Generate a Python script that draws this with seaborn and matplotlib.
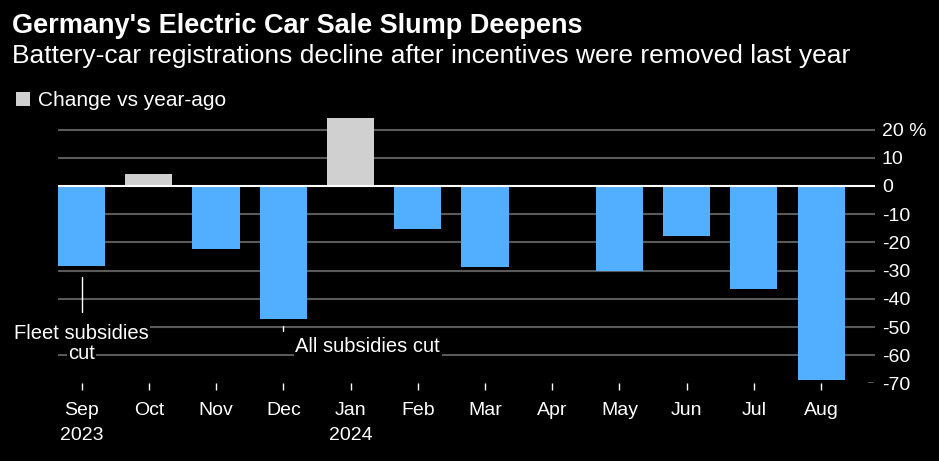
import numpy as np
import pandas as pd
import seaborn as sns
import matplotlib.pyplot as plt
from matplotlib.patches import Rectangle

months = ['Sep', 'Oct', 'Nov', 'Dec', 'Jan', 'Feb', 'Mar', 'Apr', 'May', 'Jun', 'Jul', 'Aug']
years = ['2023', '', '', '', '2024', '', '', '', '', '', '', '']
change = [-28.4, 4.3, -22.2, -47.3, 24.0, -15.2, -28.7, np.nan, -30.1, -17.7, -36.5, -68.8]
yticks = [20, 10, 0, -10, -20, -30, -40, -50, -60, -70]

BLUE = '#52aeff'
GREY = '#d0d0d0'
GRID = '#5a5a5a'

df = pd.DataFrame({'month': months, 'change': change})
df['sign'] = np.where(df['change'] > 0, 'up', 'down')

sns.set_style('dark', {'axes.facecolor': 'black', 'figure.facecolor': 'black'})
plt.rcParams['font.family'] = ['Liberation Sans', 'DejaVu Sans']

fig = plt.figure(figsize=(9.39, 4.61), dpi=100)
fig.patch.set_facecolor('black')
ax = fig.add_axes([58 / 939, 0.1683, 817 / 939, 0.7495 - 0.1683])
ax.set_facecolor('black')

sns.barplot(data=df, x='month', y='change', hue='sign', order=months,
            palette={'up': GREY, 'down': BLUE}, dodge=False, width=0.7,
            saturation=1, errorbar=None, legend=False, ax=ax, zorder=2,
            edgecolor='none', linewidth=0)

ax.set_xlim(-0.35, 11.8)
ax.set_ylim(-70, 25)
ax.grid(False)
for s in ax.spines.values():
    s.set_visible(False)

# gridlines
for v in yticks:
    if v == 0 or v == -70:
        continue
    ax.axhline(v, color=GRID, lw=1.5, zorder=1)
ax.axhline(-70, xmin=0.9927, xmax=0.998, color=GRID, lw=1.5, zorder=1)
ax.axhline(0, color='white', lw=1.5, zorder=3)

# y axis on the right
ax.yaxis.tick_right()
ax.set_yticks(yticks)
ax.set_yticklabels(['20 %' if v == 20 else str(v) for v in yticks])
ax.tick_params(axis='y', length=0, pad=5, labelsize=14, labelcolor='white')

# x axis
ax.set_xticks(range(len(months)))
ax.set_xticklabels([m + ('\n' + y if y else '') for m, y in zip(months, years)],
                   linespacing=1.6, va='top')
ax.tick_params(axis='x', length=4.7, width=1, color='white', pad=9,
               labelsize=14, labelcolor='white', bottom=True)
ax.set_xlabel('')
ax.set_ylabel('')

# annotations
ax.plot([0, 0], [-32.3, -44.6], color='white', lw=1, zorder=4)
ax.text(0, -52.2, 'Fleet subsidies', color='white', fontsize=14.5, ha='center', va='center',
        bbox=dict(facecolor='black', edgecolor='none', pad=1), zorder=5, clip_on=False)
ax.text(0, -59.4, 'cut', color='white', fontsize=14.5, ha='center', va='center',
        bbox=dict(facecolor='black', edgecolor='none', pad=1), zorder=5, clip_on=False)
ax.plot([3, 3], [-49.8, -51.4], color='white', lw=1, zorder=4)
ax.text(3.18, -56.8, 'All subsidies cut', color='white', fontsize=14.5, ha='left', va='center',
        bbox=dict(facecolor='black', edgecolor='none', pad=1), zorder=5)

# title, subtitle, legend
fig.text(12 / 939, 1 - 33 / 461, "Germany's Electric Car Sale Slump Deepens",
         color='white', fontsize=19.5, fontweight='bold', va='baseline')
fig.text(12 / 939, 1 - 62.7 / 461, 'Battery-car registrations decline after incentives were removed last year',
         color='white', fontsize=19, va='baseline')
fig.patches.append(Rectangle((16 / 939, 1 - 106 / 461), 14 / 939, 14 / 461,
                             transform=fig.transFigure, facecolor=GREY, edgecolor='none'))
fig.text(38 / 939, 1 - 106 / 461, 'Change vs year-ago', color='white', fontsize=15, va='baseline')

fig.savefig('out.png', dpi=100, facecolor='black')
